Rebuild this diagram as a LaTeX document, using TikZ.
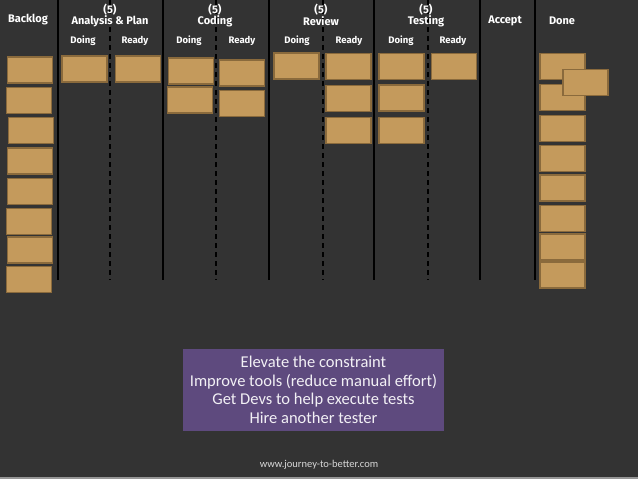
\documentclass[tikz,border=0pt]{standalone}
\usepackage{fontspec}
\setmainfont{Carlito}
\newfontfamily\headfont{Fira Sans}
\definecolor{bg}{HTML}{333333}
\definecolor{cardfill}{HTML}{C49A5C}
\definecolor{carddraw}{HTML}{8A6A3C}
\definecolor{boxfill}{HTML}{5E4A7E}
\definecolor{foot}{HTML}{D8D8D8}
\tikzset{
  card/.style={draw=carddraw, fill=cardfill, line width=1.5pt, minimum width=45pt, minimum height=26pt, inner sep=0pt},
  colline/.style={black, line width=1.6pt},
  dashline/.style={black, line width=1.6pt, dash pattern=on 5pt off 4pt},
  head/.style={text=white, font=\headfont\bfseries\fontsize{11}{11}\selectfont, inner sep=0pt},
  sub/.style={text=white, font=\headfont\bfseries\fontsize{9.5}{9.5}\selectfont, inner sep=0pt},
}
\begin{document}
\begin{tikzpicture}[x=1pt,y=-1pt]
\fill[bg] (0,0) rectangle (638,479);
\useasboundingbox (0,0) rectangle (638,479);
\fill[foot!60!bg] (0,477) rectangle (638,479);
% column lines
\foreach \x in {58,163,269,374,480,535} \draw[colline] (\x,0) -- (\x,280);
\foreach \x in {110,216,323,428} \draw[dashline] (\x,0) -- (\x,280);
% headers
\node[head] (hbacklog) at (28,20) {Backlog};
\node[head] (han5) at (110,10) {(5)};
\node[head] (han) at (110,21) {Analysis \& Plan};
\node[head] (hco5) at (215,10) {(5)};
\node[head] (hco) at (215,21) {Coding};
\node[head] (hre5) at (321,10) {(5)};
\node[head] (hre) at (321,21) {Review};
\node[head] (hte5) at (426,10) {(5)};
\node[head] (hte) at (426,21) {Testing};
\node[head] (hac) at (505,21) {Accept};
\node[head] (hdo) at (562,21) {Done};
\node[sub] (s1) at (83,41) {Doing};
\node[sub] (s2) at (135,41) {Ready};
\node[sub] (s3) at (189,41) {Doing};
\node[sub] (s4) at (242,41) {Ready};
\node[sub] (s5) at (297,41) {Doing};
\node[sub] (s6) at (349,41) {Ready};
\node[sub] (s7) at (401,41) {Doing};
\node[sub] (s8) at (453,41) {Ready};
% backlog cards
\node[card] (b1) at (30,70) {};
\node[card] (b2) at (29,100.5) {};
\node[card] (b3) at (31,130.5) {};
\node[card] (b4) at (30,161) {};
\node[card] (b5) at (30,191.5) {};
\node[card] (b6) at (29,221.5) {};
\node[card] (b7) at (30,250) {};
\node[card] (b8) at (29,279.5) {};
% analysis
\node[card] (a1) at (84.5,69) {};
\node[card] (a2) at (138,69) {};
% coding
\node[card] (c1) at (191,71) {};
\node[card] (c2) at (190,100) {};
\node[card] (c3) at (242,73) {};
\node[card] (c4) at (242,103.5) {};
% review
\node[card] (r1) at (296.5,66) {};
\node[card] (r2) at (348.5,66.5) {};
\node[card] (r3) at (348.5,98.5) {};
\node[card] (r4) at (348.5,130.5) {};
% testing
\node[card] (t1) at (401.5,66.5) {};
\node[card] (t2) at (401.5,98) {};
\node[card] (t3) at (401.5,130.5) {};
\node[card] (t4) at (454,66.5) {};
% done
\node[card] (d1) at (562.5,66.5) {};
\node[card] (d2) at (562.5,97.5) {};
\node[card] (d3) at (562.5,128.5) {};
\node[card] (d4) at (562.5,158.5) {};
\node[card] (d5) at (562.5,188) {};
\node[card] (d6) at (562.5,218.5) {};
\node[card] (d7) at (562.5,247) {};
\node[card] (d8) at (562.5,275) {};
\node[card] (d9) at (585.5,82.5) {};
% purple box
\node[fill=boxfill, minimum width=261pt, minimum height=82pt, inner sep=0pt, text=white!92!boxfill,
  align=center, font=\fontsize{16.5}{18.5}\selectfont] (box) at (313.5,390)
  {Elevate the constraint\\Improve tools (reduce manual effort)\\Get Devs to help execute tests\\Hire another tester};
\node[text=foot, font=\fontsize{10.5}{10.5}\selectfont, inner sep=0pt] (url) at (319,465) {www.journey-to-better.com};
\end{tikzpicture}
\end{document}
